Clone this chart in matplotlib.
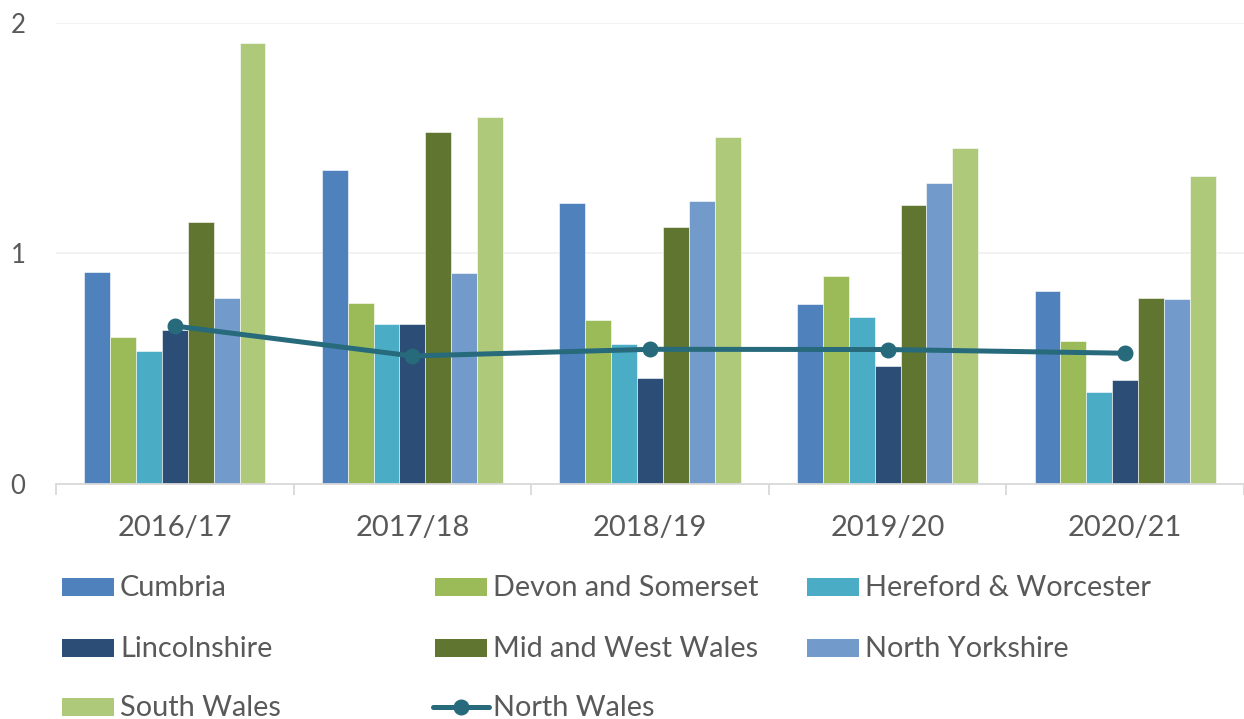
import matplotlib
matplotlib.use("Agg")
import matplotlib.pyplot as plt
from matplotlib.patches import Rectangle
from matplotlib.lines import Line2D
import numpy as np

# ---- data ----
years = ["2016/17", "2017/18", "2018/19", "2019/20", "2020/21"]

cumbria = [0.92, 1.36, 1.22, 0.78, 0.835]
devon_somerset = [0.636, 0.784, 0.713, 0.902, 0.619]
hereford_worcester = [0.577, 0.694, 0.609, 0.722, 0.40]
lincolnshire = [0.667, 0.694, 0.46, 0.511, 0.453]
mid_west_wales = [1.137, 1.527, 1.113, 1.208, 0.808]
north_yorkshire = [0.807, 0.916, 1.228, 1.307, 0.802]
south_wales = [1.91, 1.593, 1.505, 1.458, 1.336]
north_wales = [0.685, 0.555, 0.584, 0.583, 0.567]

bar_names = ["Cumbria", "Devon and Somerset", "Hereford & Worcester",
             "Lincolnshire", "Mid and West Wales", "North Yorkshire",
             "South Wales"]
bar_series = [cumbria, devon_somerset, hereford_worcester, lincolnshire,
              mid_west_wales, north_yorkshire, south_wales]
bar_colors = ["#4F81BD", "#9BBB59", "#4BACC6", "#2C4D75", "#5F7530",
              "#729ACA", "#AFC97A"]
line_name = "North Wales"
line_color = "#266A7B"

TEXT = "#595959"
FONT = "Lato"

W, H = 1244, 719
fig = plt.figure(figsize=(W / 100, H / 100), dpi=100)
plt.rcParams["font.family"] = [FONT, "DejaVu Sans"]


def fx(px):
    return px / W


def fy(py):
    return 1 - py / H


ax = fig.add_axes([fx(56), fy(484), 1 - fx(56), (484 - 22.7) / H])

x = np.arange(len(years))
bw = 0.109
n = len(bar_series)
for j, (vals, col) in enumerate(zip(bar_series, bar_colors)):
    ax.bar(x + (j - (n - 1) / 2) * bw, vals, width=bw, color=col,
           edgecolor="white", linewidth=0.4, zorder=2)

ax.plot(x, north_wales, color=line_color, lw=3.6, marker="o",
        markersize=10.5, zorder=3, solid_capstyle="round")

ax.set_xlim(-0.5, len(years) - 0.5)
ax.set_ylim(0, 2)
ax.set_yticks([0, 1, 2])
ax.set_yticklabels(["0", "1", "2"])
ax.set_xticks(x)
ax.set_xticklabels(years)
ax.set_xticks(np.arange(-0.5, len(years), 1.0), minor=True)

for yv in [1, 2]:
    ax.axhline(yv, color="#F0F0F0", lw=1.2, zorder=1)

for s in ["top", "right", "left"]:
    ax.spines[s].set_visible(False)
ax.spines["bottom"].set_color("#D9D9D9")
ax.spines["bottom"].set_linewidth(1.3)

ax.tick_params(axis="y", length=0, pad=22, labelsize=18.5, labelcolor=TEXT)
ax.tick_params(axis="x", which="major", length=0, pad=22, labelsize=21,
               labelcolor=TEXT)
ax.tick_params(axis="x", which="minor", length=8, width=1.3,
               color="#D9D9D9", direction="out")

# ---- legend drawn in figure pixels ----
col_x = [62, 435, 807]
row_y = [587, 648, 707]
legend_items = [(name, col, "bar") for name, col in zip(bar_names, bar_colors)]
legend_items.append((line_name, line_color, "line"))
for k, (name, col, kind) in enumerate(legend_items):
    r, c = divmod(k, 3)
    x0, yc = col_x[c], row_y[r]
    if kind == "bar":
        fig.add_artist(Rectangle((fx(x0), fy(yc + 8.7)), 52 / W, 17.4 / H,
                                 transform=fig.transFigure, color=col,
                                 lw=0))
    else:
        fig.add_artist(Line2D([fx(x0 - 2), fx(x0 + 54)], [fy(yc), fy(yc)],
                              transform=fig.transFigure, color=col, lw=3.6,
                              solid_capstyle="round"))
        fig.add_artist(Line2D([fx(x0 + 26)], [fy(yc)],
                              transform=fig.transFigure, color=col,
                              marker="o", markersize=10.5, lw=0))
    fig.text(fx(x0 + 58), fy(yc + 8.7), name, fontsize=20.8, color=TEXT,
             va="baseline", ha="left")

fig.savefig("out.png", dpi=100)
